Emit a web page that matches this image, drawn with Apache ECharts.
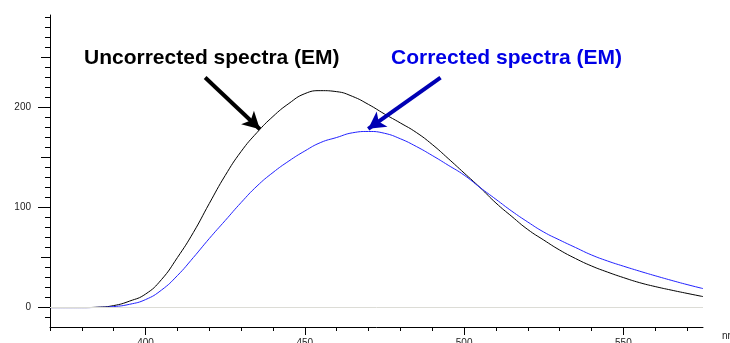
<!DOCTYPE html>
<html>
<head>
<meta charset="utf-8">
<script src="https://cdn.jsdelivr.net/npm/echarts@6/dist/echarts.min.js"></script>
<style>
html,body{margin:0;padding:0;background:#fff;}
#chart{width:730px;height:343px;}
</style>
</head>
<body>
<div id="chart"></div>
<script>
// ---- data ----
const wavelengths = [370,375,380,385,390,395,400,405,410,415,420,425,430,435,440,445,450,455,460,465,470,475,480,485,490,495,500,505,510,515,520,525,530,535,540,545,550,555,560,565,570,575];
const uncorrected = [0,0,0,0.4,2,6.5,13.5,28,50,75,104,132,156,175,191,204,213.8,216.8,215.8,211,203,193.5,184.5,175,163,149,134.5,120,104.5,91,78,67.5,57.5,49,41.6,35.5,30,25,21,17.5,14.2,11];
const corrected   = [0,0,0,0.2,1,3.3,8,17.5,32,50,69,87,105,121.5,135,146.5,156.5,165,170,174.7,176,174.2,168.7,161,152,142.3,132.4,120,108.2,96.3,85.5,75.5,67.5,60,52.6,46.6,41.4,36.5,31.8,27.3,23,19];

const yLabelTicks = [0,100,200];
const yMidTicks = [50,150,250];
const yMinorTicks = [-10,0,10,20,30,40,50,60,70,80,90,100,110,120,130,140,150,160,170,180,190,200,210,220,230,240,250,260,270,280,290];
const xLabelTicks = [400,450,500,550];
const xMinorTicks = [370,380,390,400,410,420,430,440,450,460,470,480,490,500,510,520,530,540,550,560,570];

const labelUncorrected = 'Uncorrected spectra (EM)';
const labelCorrected = 'Corrected spectra (EM)';
const xUnit = 'nm';

const arrowUncorrected = [[418.7,229.9],[435.9,178.3]];
const arrowCorrected = [[492.6,229.9],[469.9,178.6]];

// ---- chart ----
const chart = echarts.init(document.getElementById('chart'), null, {renderer:'canvas'});
const FONT = 'Liberation Sans, Arial, Helvetica, sans-serif';
const yMin = -19.4, yMax = 292.4;

function yAx(ticks, len, labels, showLine){
  return {
    type:'value', min:yMin, max:yMax, position:'left',
    axisLine:{show:showLine, lineStyle:{color:'#000', width:1}},
    axisTick:{show:true, length:len, customValues:ticks, lineStyle:{color:'#000', width:1}},
    axisLabel: labels ? {show:true, customValues:labels, margin:19, fontSize:10, color:'#222', fontFamily:FONT} : {show:false},
    splitLine:{show:false}
  };
}

const option = {
  animation:false,
  backgroundColor:'#fff',
  grid:{left:50, right:27, top:15, bottom:16, containLabel:false, outerBoundsMode:'none'},
  xAxis:[
    {
      type:'value', min:370, max:575,
      name:xUnit, nameLocation:'end', nameGap:19,
      nameTextStyle:{fontSize:10, color:'#222', fontFamily:FONT, verticalAlign:'top', align:'left', padding:[4,0,0,0]},
      axisLine:{show:true, onZero:false, lineStyle:{color:'#000', width:1}},
      axisTick:{show:true, length:4, customValues:xMinorTicks, lineStyle:{color:'#000'}},
      axisLabel:{show:false},
      splitLine:{show:false}
    },
    {
      type:'value', min:370, max:575, position:'bottom',
      axisLine:{show:false, onZero:false},
      axisTick:{show:true, length:8, customValues:xLabelTicks, lineStyle:{color:'#000'}},
      axisLabel:{show:true, customValues:xLabelTicks, margin:11, fontSize:10, color:'#222', fontFamily:FONT},
      splitLine:{show:false}
    }
  ],
  yAxis:[
    yAx(yMinorTicks, 5, null, true),
    yAx(yMidTicks, 9, null, false),
    yAx(yLabelTicks, 12, yLabelTicks, false)
  ],
  graphic:[
    {type:'text', left:84, top:48, z:100, style:{text:labelUncorrected, fill:'#000', font:'bold 21px '+FONT}},
    {type:'text', left:391, top:48, z:100, style:{text:labelCorrected, fill:'#0000e6', font:'bold 21px '+FONT}}
  ],
  series:[
    {
      type:'line', data:[], z:1, silent:true,
      markLine:{
        silent:true, symbol:['none','none'], animation:false,
        lineStyle:{color:'#dcdcd6', width:1, type:'solid'},
        label:{show:false},
        data:[{yAxis:0}]
      }
    },
    {
      name:labelUncorrected, type:'line', z:3,
      data:wavelengths.map((w,i)=>[w,uncorrected[i]]),
      showSymbol:false, smooth:0.5,
      lineStyle:{color:'#000', width:1},
      markLine:{
        silent:true, symbol:['none','arrow'], symbolSize:[14,17], animation:false,
        lineStyle:{color:'#000', width:4, type:'solid'},
        label:{show:false},
        data:[[{coord:arrowUncorrected[0]},{coord:arrowUncorrected[1]}]]
      }
    },
    {
      name:labelCorrected, type:'line', z:4,
      data:wavelengths.map((w,i)=>[w,corrected[i]]),
      showSymbol:false, smooth:0.5,
      lineStyle:{color:'#2222ff', width:1},
      markLine:{
        silent:true, symbol:['none','arrow'], symbolSize:[14,17], animation:false,
        lineStyle:{color:'#0000b4', width:4, type:'solid'},
        label:{show:false},
        data:[[{coord:arrowCorrected[0]},{coord:arrowCorrected[1]}]]
      }
    }
  ]
};
chart.setOption(option);
</script>
</body>
</html>
